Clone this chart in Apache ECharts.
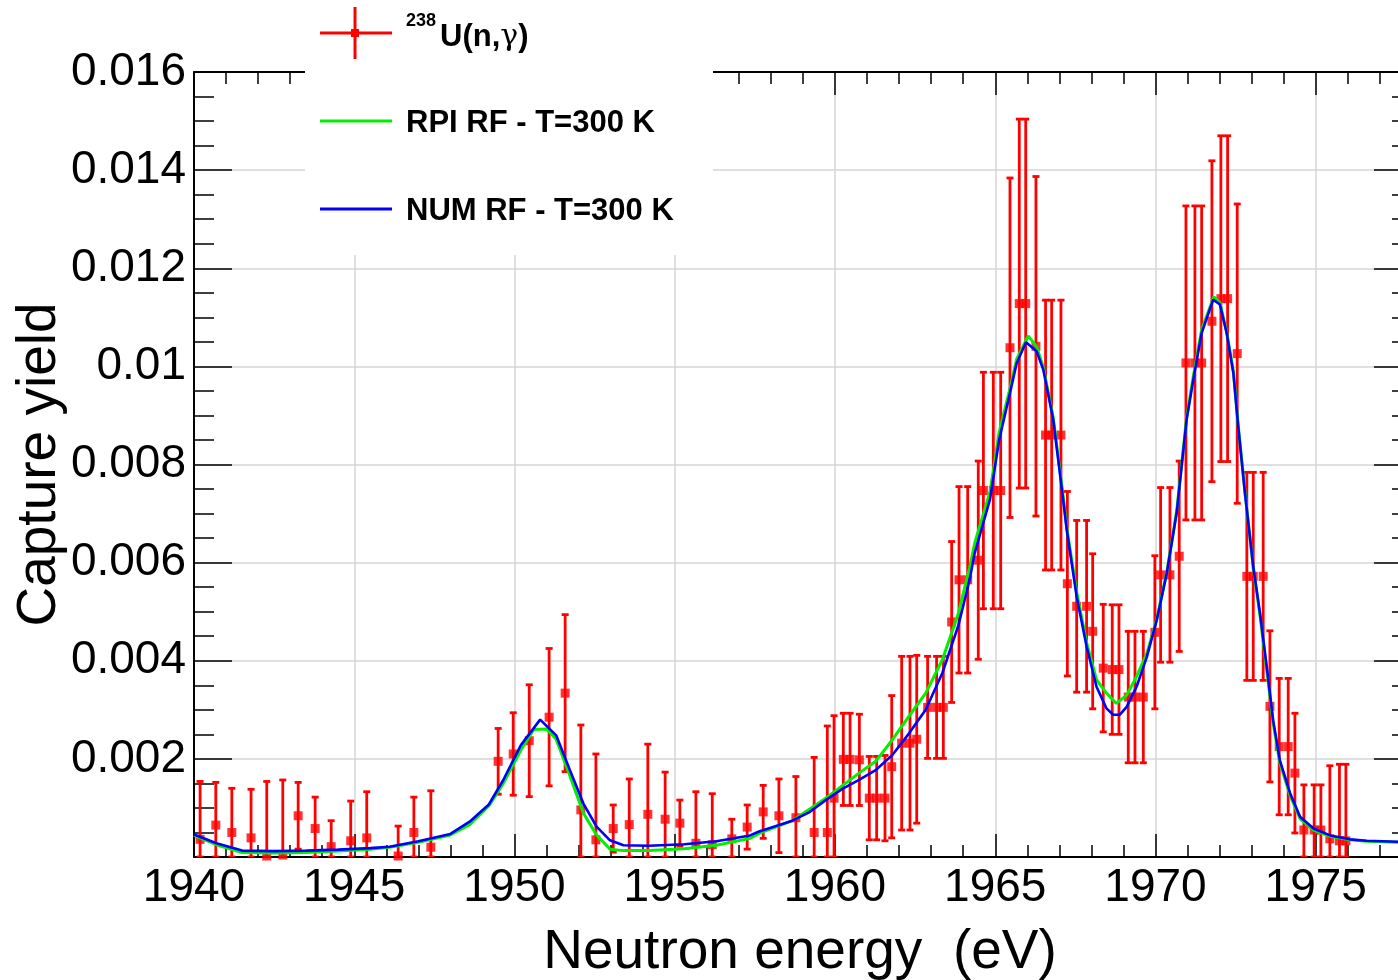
<!DOCTYPE html>
<html>
<head>
<meta charset="utf-8">
<script src="https://cdn.jsdelivr.net/npm/echarts@6/dist/echarts.min.js"></script>
<style>html,body{margin:0;padding:0;background:#fff;}#chart{width:1398px;height:980px;}</style>
</head>
<body>
<div id="chart"></div>
<script>
// ---- Data ----
const xTickLabels = ['1940','1945','1950','1955','1960','1965','1970','1975'];
const yTickLabels = ['','0.002','0.004','0.006','0.008','0.01','0.012','0.014','0.016'];

// measured 238U(n,gamma) capture yield
const expEnergy = [
  1940.19,1940.68,1941.18,1941.78,1942.27,1942.77,1943.25,1943.78,1944.28,1944.89,1945.39,1946.37,1946.86,1947.39,
  1949.49,1949.96,1950.46,1951.08,1951.58,1952.07,1952.54,1953.08,1953.58,1954.16,1954.70,1955.16,1955.66,1956.17,
  1956.78,1957.26,1957.76,1958.25,1958.78,1959.35,1959.76,1959.97,1960.26,1960.47,1960.76,1961.07,1961.30,1961.56,
  1961.77,1962.08,1962.34,1962.55,1962.89,1963.17,1963.38,1963.64,1963.87,1964.14,1964.47,1964.63,1964.94,1965.17,
  1965.46,1965.75,1965.95,1966.27,1966.57,1966.76,1967.05,1967.25,1967.54,1967.85,1968.04,1968.37,1968.65,1968.86,
  1969.15,1969.36,1969.62,1969.98,1970.16,1970.45,1970.74,1970.95,1971.23,1971.44,1971.76,1972.04,1972.25,1972.55,
  1972.85,1973.05,1973.36,1973.57,1973.86,1974.14,1974.35,1974.63,1974.95,1975.16,1975.44,1975.74,1975.94
];
const expYield = [
  0.00036,0.00065,0.00050,0.00039,0.00002,0.00004,0.00084,0.00058,0.00021,0.00033,0.00039,0.00002,0.00050,0.00020,
  0.00195,0.00210,0.00237,0.00285,0.00334,0.00096,0.00035,0.00058,0.00066,0.00087,0.00077,0.00069,0.00028,0.00025,
  0.00037,0.00061,0.00092,0.00084,0.00080,0.00050,0.00050,0.00120,0.00199,0.00199,0.00198,0.00120,0.00120,0.00120,
  0.00184,0.00232,0.00232,0.00240,0.00305,0.00305,0.00305,0.00479,0.00565,0.00565,0.00605,0.00747,0.00747,0.00747,
  0.01038,0.01128,0.01128,0.01041,0.00860,0.00860,0.00860,0.00557,0.00511,0.00511,0.00460,0.00385,0.00382,0.00382,
  0.00326,0.00326,0.00326,0.00458,0.00575,0.00575,0.00613,0.01007,0.01007,0.01007,0.01092,0.01138,0.01138,0.01026,
  0.00572,0.00572,0.00572,0.00307,0.00225,0.00225,0.00171,0.00055,0.00055,0.00055,0.00037,0.00033,0.00033
];
const expError = [
  0.00118,0.00087,0.00090,0.00099,0.00152,0.00153,0.00068,0.00064,0.00053,0.00081,0.00094,0.00061,0.00072,0.00115,
  0.00067,0.00084,0.00114,0.00140,0.00160,0.00173,0.00175,0.00048,0.00093,0.00143,0.00096,0.00047,0.00105,0.00104,
  0.00040,0.00045,0.00054,0.00075,0.00084,0.00153,0.00217,0.00168,0.00094,0.00094,0.00093,0.00085,0.00085,0.00087,
  0.00145,0.00177,0.00177,0.00171,0.00104,0.00104,0.00104,0.00164,0.00190,0.00190,0.00202,0.00241,0.00241,0.00241,
  0.00346,0.00376,0.00376,0.00346,0.00275,0.00275,0.00275,0.00188,0.00175,0.00175,0.00158,0.00130,0.00132,0.00132,
  0.00134,0.00134,0.00134,0.00156,0.00178,0.00178,0.00194,0.00320,0.00320,0.00320,0.00327,0.00332,0.00332,0.00305,
  0.00212,0.00212,0.00212,0.00154,0.00139,0.00139,0.00122,0.00092,0.00092,0.00092,0.00149,0.00156,0.00156
];

// NUM RF - T=300 K (blue)
const numEnergy = [
  1940.0,1940.7,1941.5,1942.5,1943.5,1944.5,1945.5,1946.1,1947.0,1948.0,1948.6,1949.2,1949.65,1950.2,1950.8,1951.3,
  1951.73,1952.15,1952.56,1952.98,1953.4,1954.2,1955.3,1956.3,1957.35,1957.63,1958.67,1959.19,1959.71,1960.23,1960.75,
  1961.27,1961.79,1962.31,1962.83,1963.35,1963.85,1964.2,1964.36,1964.84,1965.12,1965.46,1965.67,1965.96,1966.29,1966.5,
  1966.81,1967.12,1967.23,1967.54,1967.85,1968.16,1968.47,1968.68,1968.89,1969.1,1969.41,1969.73,1970.04,1970.35,1970.66,
  1970.97,1971.18,1971.44,1971.8,1972.01,1972.22,1972.43,1972.58,1972.79,1973.05,1973.26,1973.47,1973.67,1973.88,1974.2,
  1974.51,1974.93,1975.45,1976.07,1976.59,1977.57,1978.0
];
const numYield = [
  0.00046,0.00028,0.00013,0.00012,0.00013,0.00015,0.00018,0.00021,0.00032,0.00047,0.00072,0.00107,0.00157,0.00228,0.00280,0.00248,
  0.00177,0.00109,0.00062,0.00034,0.00024,0.00023,0.00026,0.00032,0.00044,0.00052,0.00074,0.00091,0.00116,0.00139,0.00157,
  0.00177,0.00208,0.00252,0.00300,0.00375,0.00472,0.00565,0.00620,0.00730,0.00850,0.00946,0.01007,0.01049,0.01031,0.00993,
  0.00891,0.00728,0.00667,0.00531,0.00429,0.00347,0.00303,0.00290,0.00290,0.00306,0.00347,0.00408,0.00483,0.00578,0.00701,
  0.00891,0.00973,0.01068,0.01136,0.01126,0.01068,0.00986,0.00878,0.00742,0.00592,0.00497,0.00388,0.00279,0.00197,0.00130,
  0.00082,0.00058,0.00044,0.00036,0.00033,0.00031,0.00031
];

// RPI RF - T=300 K (green)
const rpiEnergy = [
  1940.0,1940.7,1941.5,1942.5,1943.5,1944.5,1945.5,1946.1,1947.0,1948.0,1948.6,1949.2,1949.65,1950.2,1950.6,1951.0,1951.3,
  1951.73,1952.15,1952.56,1952.98,1953.4,1954.2,1955.3,1956.3,1957.35,1957.63,1958.67,1959.71,1960.75,1961.27,1961.79,
  1962.31,1962.83,1963.35,1963.85,1964.2,1964.36,1964.84,1965.12,1965.46,1965.67,1966.03,1966.29,1966.5,1966.81,1967.12,
  1967.23,1967.54,1967.85,1968.16,1968.47,1968.78,1969.1,1969.41,1969.73,1970.04,1970.35,1970.66,1970.97,1971.18,1971.44,
  1971.82,1972.01,1972.22,1972.43,1972.58,1972.79,1973.05,1973.26,1973.47,1973.67,1973.88,1974.2,1974.51,1974.93,1975.45,
  1976.07,1976.59,1977.57,1978.0
];
const rpiYield = [
  0.00044,0.00025,0.00009,0.00008,0.00009,0.00012,0.00016,0.00020,0.00030,0.00045,0.00066,0.00104,0.00150,0.00218,0.00260,0.00261,0.00240,
  0.00165,0.00089,0.00045,0.00016,0.00013,0.00013,0.00017,0.00024,0.00038,0.00048,0.00074,0.00120,0.00171,0.00195,0.00239,
  0.00287,0.00334,0.00402,0.00497,0.00590,0.00640,0.00745,0.00865,0.00955,0.01015,0.01062,0.01040,0.00998,0.00895,0.00735,
  0.00672,0.00540,0.00437,0.00361,0.00334,0.00313,0.00330,0.00368,0.00415,0.00485,0.00580,0.00705,0.00895,0.00980,0.01075,
  0.01142,0.01130,0.01070,0.00990,0.00880,0.00745,0.00590,0.00492,0.00382,0.00273,0.00192,0.00125,0.00078,0.00055,0.00042,
  0.00035,0.00032,0.00030,0.00030
];

// ---- Chart ----
const expData = expEnergy.map((e, i) => [e, expYield[i], expError[i]]);
const expPoints = expEnergy.map((e, i) => [e, expYield[i]]);
const numData = numEnergy.map((e, i) => [e, numYield[i]]);
const rpiData = rpiEnergy.map((e, i) => [e, rpiYield[i]]);

const FONT = '"Liberation Sans", Arial, Helvetica, sans-serif';
const AX = { color: '#000', width: 2 };
const TK = { color: '#000', width: 1.5 };

function xFmt(v) {
  const i = (v - 1940) / 5;
  return (Math.abs(i - Math.round(i)) < 1e-6 && Math.round(i) < xTickLabels.length) ? xTickLabels[Math.round(i)] : '';
}
function yFmt(v) {
  const i = Math.round(v / 0.002);
  return yTickLabels[i] !== undefined ? yTickLabels[i] : '';
}

const chart = echarts.init(document.getElementById('chart'), null, { renderer: 'canvas' });
chart.setOption({
  backgroundColor: '#fff',
  animation: false,
  grid: { left: 194, top: 72, width: 1282, height: 785, containLabel: false, outerBoundsMode: 'none' },
  xAxis: [
    {
      type: 'value', min: 1940, max: 1980, interval: 5, position: 'bottom',
      axisLine: { show: true, onZero: false, lineStyle: AX },
      axisTick: { show: true, inside: true, length: 23, lineStyle: TK },
      minorTick: { show: true, splitNumber: 5, length: 12, lineStyle: TK },
      splitLine: { show: true, lineStyle: { color: '#d6d6d6', width: 1.5 } },
      axisLabel: { formatter: xFmt, fontFamily: FONT, fontSize: 46, color: '#000', margin: 8 },
      name: 'Neutron energy  (eV)', nameLocation: 'middle', nameGap: 68, nameMoveOverlap: false,
      nameTextStyle: { fontFamily: FONT, fontSize: 55, color: '#000', padding: [0, 70, 0, 0] }
    },
    {
      type: 'value', min: 1940, max: 1980, interval: 5, position: 'top',
      axisLine: { show: true, onZero: false, lineStyle: AX },
      axisTick: { show: true, inside: true, length: 23, lineStyle: TK },
      minorTick: { show: true, splitNumber: 5, length: 12, lineStyle: TK },
      splitLine: { show: false }, axisLabel: { show: false }
    }
  ],
  yAxis: [
    {
      type: 'value', min: 0, max: 0.016, interval: 0.002, position: 'left',
      axisLine: { show: true, onZero: false, lineStyle: AX },
      axisTick: { show: true, inside: true, length: 38, lineStyle: TK },
      minorTick: { show: true, splitNumber: 4, length: 20, lineStyle: TK },
      splitLine: { show: true, lineStyle: { color: '#d6d6d6', width: 1.5 } },
      axisLabel: { formatter: yFmt, fontFamily: FONT, fontSize: 46, color: '#000', margin: 8 },
      name: 'Capture yield', nameLocation: 'middle', nameGap: 127, nameRotate: 90, nameMoveOverlap: false,
      nameTextStyle: { fontFamily: FONT, fontSize: 55, color: '#000' }
    },
    {
      type: 'value', min: 0, max: 0.016, interval: 0.002, position: 'right', offset: -64,
      axisLine: { show: true, onZero: false, lineStyle: AX },
      axisTick: { show: true, inside: true, length: 38, lineStyle: TK },
      minorTick: { show: true, splitNumber: 4, length: 20, lineStyle: TK },
      splitLine: { show: false }, axisLabel: { show: false }
    }
  ],
  series: [
    {
      type: 'custom', name: 'errors', xAxisIndex: 0, yAxisIndex: 0, data: expData,
      encode: { x: 0, y: 1 }, clip: true, z: 2,
      renderItem: function (params, api) {
        const x = api.value(0), y = api.value(1), e = api.value(2);
        const top = api.coord([x, y + e]);
        const bot = api.coord([x, Math.max(0, y - e)]);
        const cw = 3.5;
        const st = { stroke: '#ff0000', lineWidth: 2.8 };
        return {
          type: 'group',
          children: [
            { type: 'line', shape: { x1: top[0], y1: top[1], x2: bot[0], y2: bot[1] }, style: st },
            { type: 'line', shape: { x1: top[0] - cw, y1: top[1], x2: top[0] + cw, y2: top[1] }, style: st },
            { type: 'line', shape: { x1: bot[0] - cw, y1: bot[1], x2: bot[0] + cw, y2: bot[1] }, style: st }
          ]
        };
      }
    },
    {
      type: 'scatter', name: '238U(n,γ)', data: expPoints, symbol: 'rect', symbolSize: 9,
      itemStyle: { color: '#ff0000' }, z: 3, clip: true
    },
    {
      type: 'line', name: 'RPI RF - T=300 K', data: rpiData, showSymbol: false, z: 4,
      lineStyle: { color: '#00f000', width: 3 }, clip: true
    },
    {
      type: 'line', name: 'NUM RF - T=300 K', data: numData, showSymbol: false, z: 5,
      lineStyle: { color: '#0000ff', width: 2.6 }, clip: true
    }
  ],
  graphic: [
    { type: 'rect', z: 100, shape: { x: 305, y: 0, width: 408, height: 255 }, style: { fill: '#fff' } },
    { type: 'line', z: 101, shape: { x1: 320, y1: 33, x2: 392, y2: 33 }, style: { stroke: '#ff0000', lineWidth: 3 } },
    { type: 'line', z: 101, shape: { x1: 355, y1: 7, x2: 355, y2: 59 }, style: { stroke: '#ff0000', lineWidth: 3 } },
    { type: 'rect', z: 102, shape: { x: 351, y: 29, width: 8, height: 8 }, style: { fill: '#ff0000' } },
    { type: 'text', z: 101, x: 406, y: 21, style: { text: '238', font: 'bold 18px ' + FONT, fill: '#000', verticalAlign: 'middle' } },
    { type: 'text', z: 101, x: 440, y: 37, style: {
        text: '{b|U(n,}{g|γ}{b|)}', verticalAlign: 'middle',
        rich: {
          b: { fontFamily: FONT, fontWeight: 'bold', fontSize: 31, fill: '#000', color: '#000' },
          g: { fontFamily: '"DejaVu Serif", serif', fontWeight: 'normal', fontSize: 30, fill: '#000', color: '#000' }
        }
      } },
    { type: 'line', z: 101, shape: { x1: 320, y1: 121, x2: 392, y2: 121 }, style: { stroke: '#00f000', lineWidth: 3 } },
    { type: 'text', z: 101, x: 406, y: 123, style: { text: 'RPI RF - T=300 K', font: 'bold 31px ' + FONT, fill: '#000', verticalAlign: 'middle' } },
    { type: 'line', z: 101, shape: { x1: 320, y1: 209, x2: 392, y2: 209 }, style: { stroke: '#0000ff', lineWidth: 3 } },
    { type: 'text', z: 101, x: 406, y: 211, style: { text: 'NUM RF - T=300 K', font: 'bold 31px ' + FONT, fill: '#000', verticalAlign: 'middle' } }
  ]
});
</script>
</body>
</html>
